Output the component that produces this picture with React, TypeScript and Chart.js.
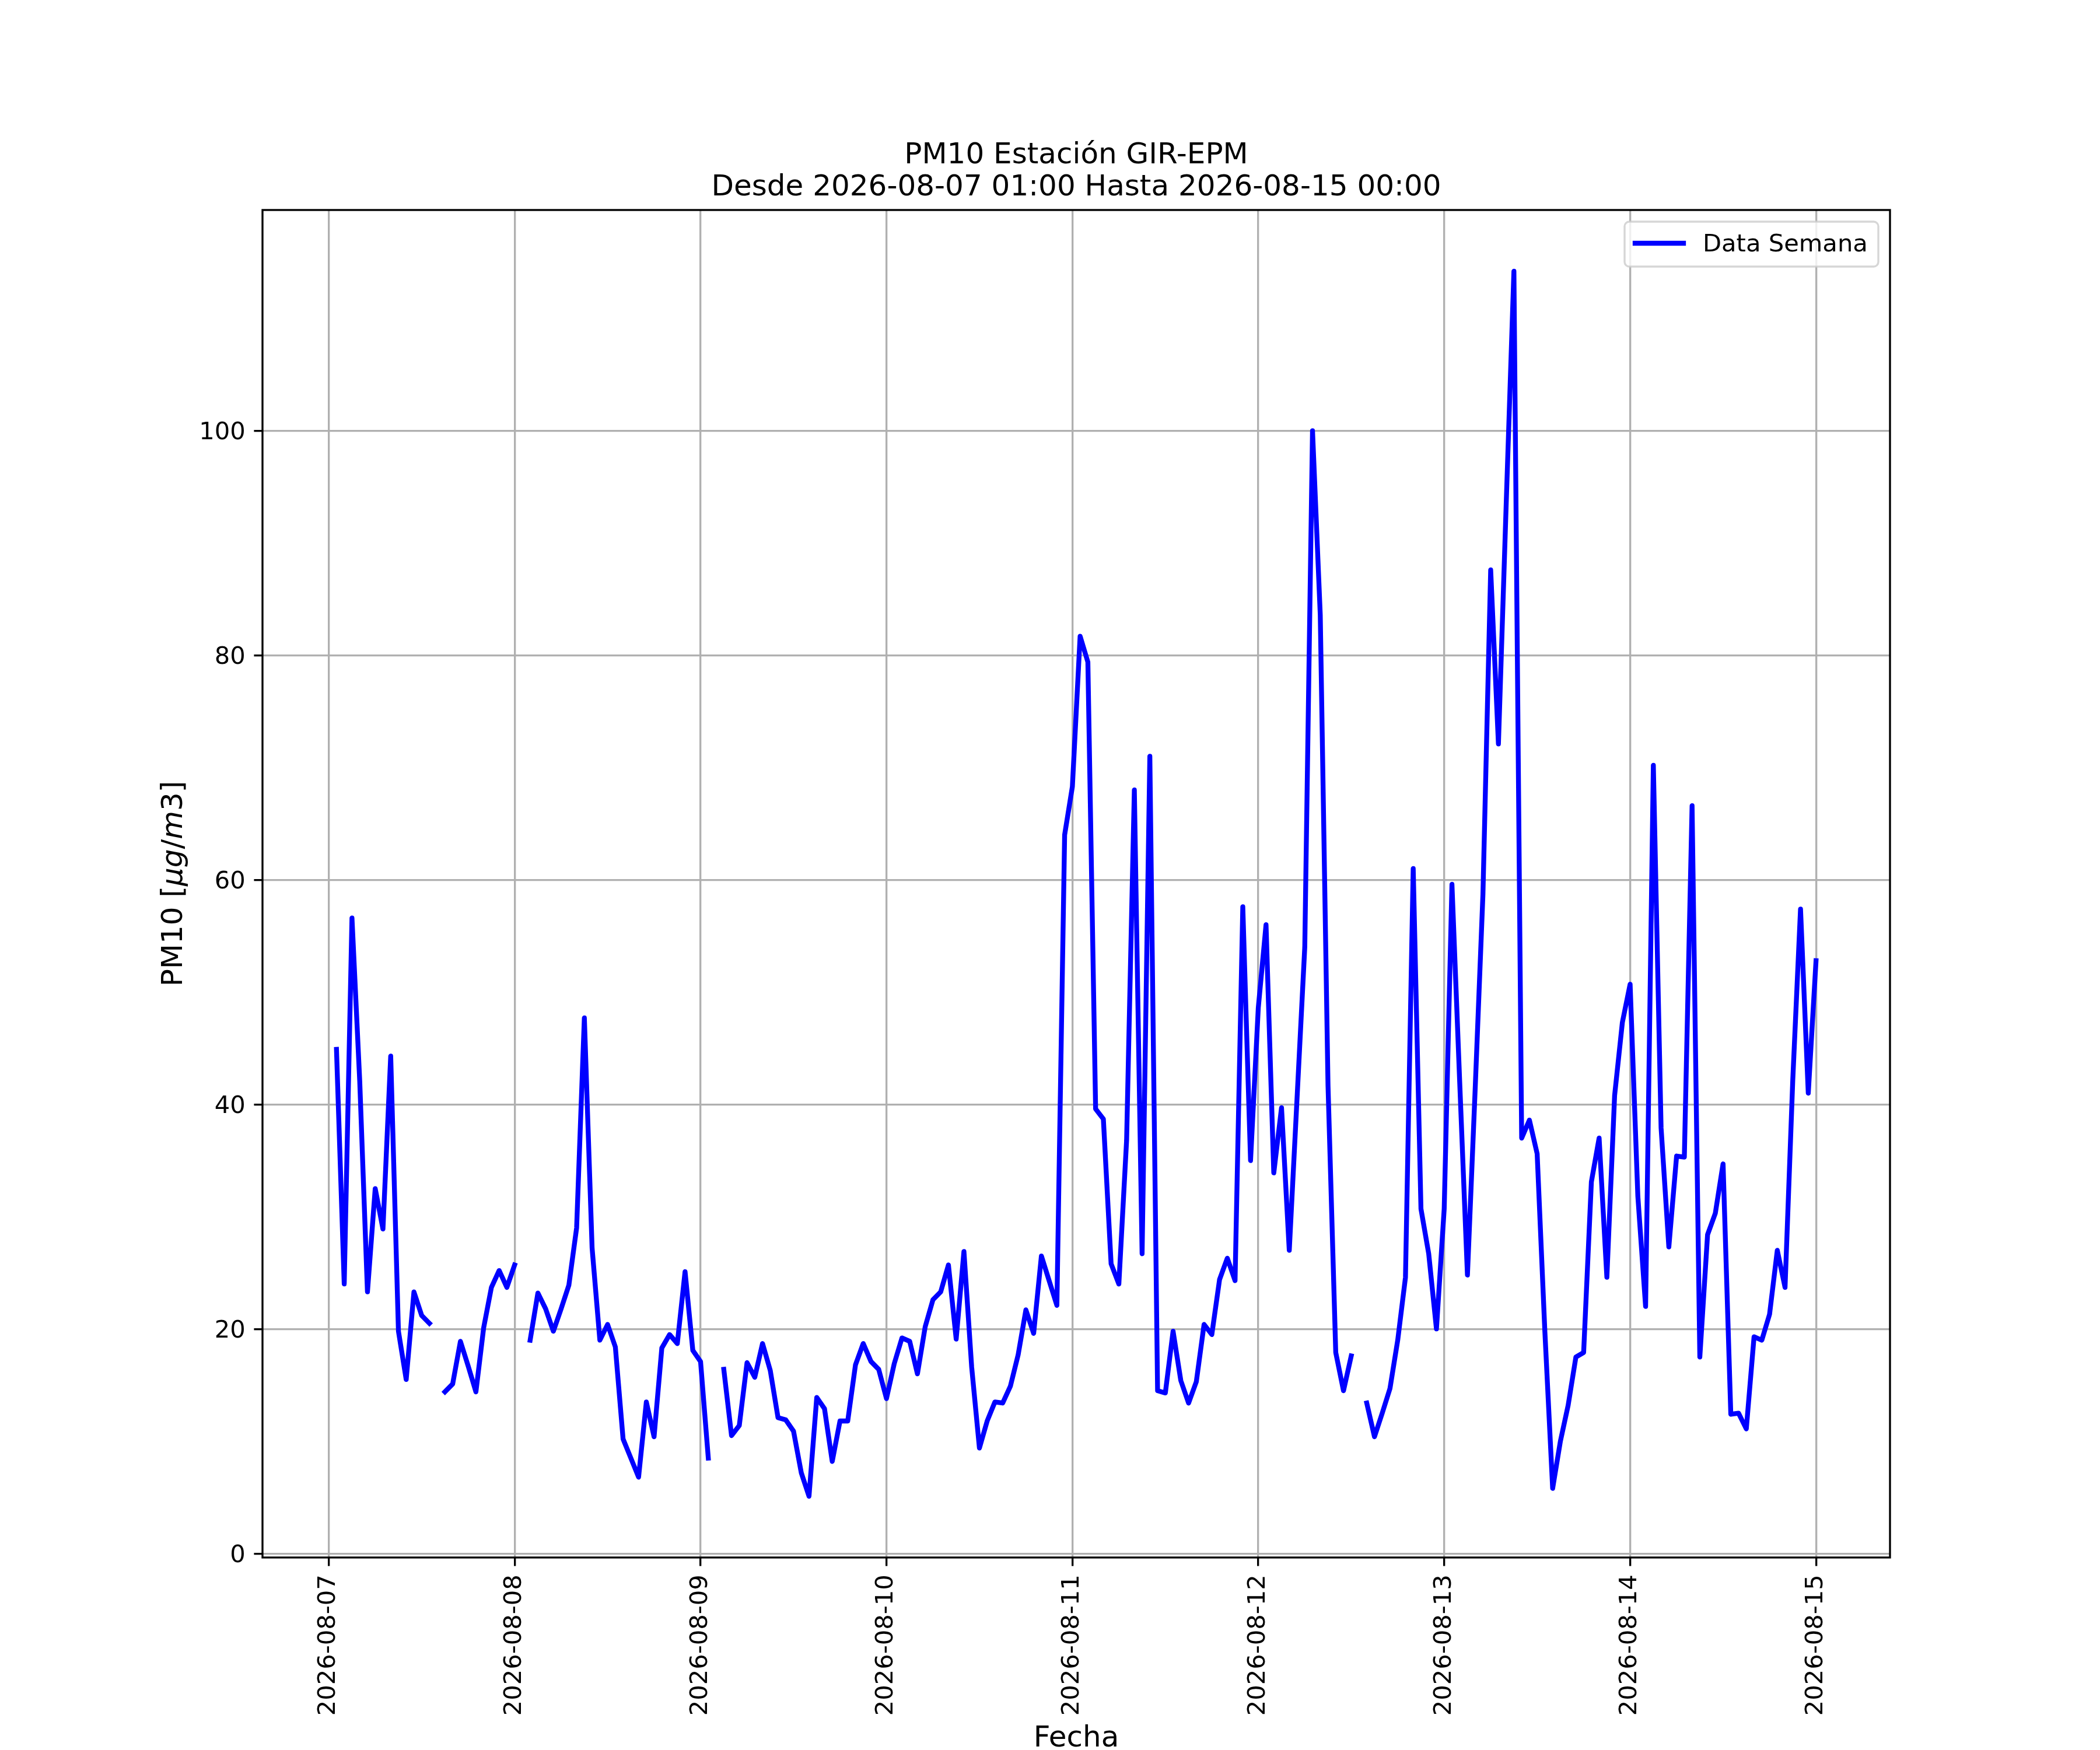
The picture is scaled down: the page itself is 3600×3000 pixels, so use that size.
import { useEffect, useRef } from "react";
import { Chart, registerables } from "chart.js";

Chart.register(...registerables);

// first reading is 2026-08-07 01:00, one value per hour (x = hours since 08-07 00:00)
const START_HOUR = 1;
const dayLabels = [
  "2026-08-07", "2026-08-08", "2026-08-09", "2026-08-10", "2026-08-11",
  "2026-08-12", "2026-08-13", "2026-08-14", "2026-08-15",
];
const yTicks = [0, 20, 40, 60, 80, 100];
const seriesLabel = "Data Semana";
const titleLines = ["PM10 Estación GIR-EPM", "Desde 2026-08-07 01:00 Hasta 2026-08-15 00:00"];
const xLabel = "Fecha";

// PM10 hourly values (null = missing hour)
const pm10: (number | null)[] = [
  44.9, 24.0, 56.6, 42.1, 23.3, 32.5, 28.9, 44.3, 19.8, 15.5, 23.3, 21.2, 20.5, null, 14.4, 15.1, 18.9, 16.7, 14.4, 20.1, 23.7, 25.2, 23.7, 25.7,
  null, 19.0, 23.2, 21.8, 19.8, 21.8, 23.9, 29.0, 47.7, 27.2, 19.0, 20.4, 18.4, 10.2, 8.5, 6.8, 13.5, 10.4, 18.3, 19.5, 18.7, 25.1, 18.1, 17.1,
  8.5, null, 16.4, 10.5, 11.4, 17.0, 15.7, 18.7, 16.3, 12.1, 11.9, 10.9, 7.2, 5.1, 13.9, 12.9, 8.2, 11.8, 11.8, 16.8, 18.7, 17.1, 16.4, 13.8,
  16.9, 19.2, 18.9, 16.0, 20.2, 22.6, 23.3, 25.7, 19.1, 26.9, 16.6, 9.4, 11.8, 13.5, 13.4, 14.9, 17.7, 21.7, 19.6, 26.5, 24.3, 22.1, 64.0, 68.3,
  81.7, 79.4, 39.6, 38.7, 25.8, 24.0, 36.8, 68.0, 26.7, 71.0, 14.5, 14.3, 19.8, 15.4, 13.4, 15.3, 20.4, 19.5, 24.4, 26.3, 24.3, 57.6, 35.0, 48.6,
  56.0, 33.9, 39.7, 27.0, 40.5, 54.0, 100.0, 83.6, 41.7, 17.9, 14.5, 17.6, null, 13.4, 10.4, 12.5, 14.7, 19.0, 24.6, 61.0, 30.7, 26.7, 20.0, 30.7,
  59.6, 42.0, 24.8, 41.4, 58.7, 87.6, 72.1, 93.4, 114.2, 37.0, 38.6, 35.6, 19.7, 5.8, 10.0, 13.2, 17.5, 17.9, 33.1, 37.0, 24.6, 40.8, 47.3, 50.7,
  31.8, 22.0, 70.2, 37.9, 27.3, 35.4, 35.3, 66.6, 17.5, 28.4, 30.3, 34.7, 12.4, 12.5, 11.1, 19.3, 19.0, 21.3, 27.0, 23.7, 42.2, 57.4, 41.0, 52.8,
];

const W = 3600;
const H = 3000;
const AREA = { left: 450, right: 3240, top: 360, bottom: 2670 };
const FONT = "'DejaVu Sans', sans-serif";
const PT = 300 / 72; // matplotlib points -> px at 300 dpi
const TICK_SIZE = 10 * PT;
const LABEL_SIZE = 12 * PT;
const BLUE = "#0000ff";

function PmChart() {
  const canvasRef = useRef<HTMLCanvasElement | null>(null);

  useEffect(() => {
    if (!canvasRef.current) return;

    const points = pm10.map((v, i) => ({ x: START_HOUR + i, y: v }));
    const vals = pm10.filter((v): v is number => v !== null);
    const lastX = START_HOUR + pm10.length - 1;
    const xPad = 0.05 * (lastX - START_HOUR);
    const yLo = Math.min(...vals);
    const yHi = Math.max(...vals);
    const yPad = 0.05 * (yHi - yLo);

    const decor = {
      id: "decor",
      afterDatasetsDraw(chart: any) {
        const { ctx, chartArea: a } = chart;
        ctx.save();
        ctx.strokeStyle = "#000";
        ctx.lineWidth = 0.8 * PT;
        ctx.strokeRect(a.left, a.top, a.right - a.left, a.bottom - a.top);
        ctx.restore();
      },
      afterDraw(chart: any) {
        const { ctx, chartArea: a } = chart;
        const cx = (a.left + a.right) / 2;
        const cy = (a.top + a.bottom) / 2;
        ctx.save();
        ctx.fillStyle = "#000";

        // title
        ctx.font = `${LABEL_SIZE}px ${FONT}`;
        ctx.textAlign = "center";
        ctx.textBaseline = "alphabetic";
        ctx.fillText(titleLines[0], cx, 280);
        ctx.fillText(titleLines[1], cx, 335);

        // x label
        ctx.fillText(xLabel, cx, 2994);

        // y label: PM10 [$\mu g/m3$]
        const normal = `${LABEL_SIZE}px ${FONT}`;
        const italic = `oblique ${LABEL_SIZE}px ${FONT}`;
        const parts: [string, string][] = [
          ["PM10 [", normal], ["μg", italic], ["/", normal], ["m", italic], ["3", normal], ["]", normal],
        ];
        let total = 0;
        for (const [t, f] of parts) { ctx.font = f; total += ctx.measureText(t).width; }
        ctx.translate(312, cy);
        ctx.rotate(-Math.PI / 2);
        ctx.textAlign = "left";
        let px = -total / 2;
        for (const [t, f] of parts) {
          ctx.font = f;
          ctx.fillText(t, px, 0);
          px += ctx.measureText(t).width;
        }
        ctx.setTransform(1, 0, 0, 1, 0, 0);

        // legend
        const lx = 2785, ly = 380, lw = 435, lh = 77, r = 8;
        ctx.beginPath();
        ctx.roundRect(lx, ly, lw, lh, r);
        ctx.fillStyle = "rgba(255,255,255,0.8)";
        ctx.fill();
        ctx.strokeStyle = "rgba(204,204,204,0.8)";
        ctx.lineWidth = 0.8 * PT;
        ctx.stroke();
        ctx.beginPath();
        ctx.moveTo(lx + 18, 417);
        ctx.lineTo(lx + 101, 417);
        ctx.strokeStyle = BLUE;
        ctx.lineWidth = 2 * PT;
        ctx.lineCap = "square";
        ctx.stroke();
        ctx.fillStyle = "#000";
        ctx.font = `${TICK_SIZE}px ${FONT}`;
        ctx.textAlign = "left";
        ctx.fillText(seriesLabel, lx + 134, 431);
        ctx.restore();
      },
    };

    const chart = new Chart(canvasRef.current, {
      type: "line",
      data: {
        datasets: [
          {
            label: seriesLabel,
            data: points,
            borderColor: BLUE,
            backgroundColor: BLUE,
            borderWidth: 2 * PT,
            borderJoinStyle: "round",
            borderCapStyle: "square",
            pointRadius: 0,
            tension: 0,
            fill: false,
            spanGaps: false,
          },
        ],
      },
      options: {
        responsive: false,
        animation: false,
        devicePixelRatio: 1,
        layout: { padding: { left: 0, top: AREA.top, right: W - AREA.right, bottom: 0 } },
        plugins: {
          legend: { display: false },
          title: { display: false },
          tooltip: { enabled: false },
        },
        scales: {
          x: {
            type: "linear",
            min: START_HOUR - xPad,
            max: lastX + xPad,
            afterBuildTicks: (s: any) => {
              s.ticks = dayLabels.map((_, i) => ({ value: i * 24 }));
            },
            afterFit: (s: any) => {
              s.height = H - AREA.bottom;
            },
            ticks: {
              autoSkip: false,
              minRotation: 90,
              maxRotation: 90,
              padding: 3.5 * PT,
              color: "#000",
              font: { family: FONT, size: TICK_SIZE },
              callback: (_v: any, i: number) => dayLabels[i],
            },
            grid: {
              color: "#b0b0b0",
              lineWidth: 0.8 * PT,
              tickColor: "#000",
              tickWidth: 0.8 * PT,
              tickLength: 3.5 * PT,
            },
            border: { display: false },
          },
          y: {
            type: "linear",
            min: yLo - yPad,
            max: yHi + yPad,
            afterBuildTicks: (s: any) => {
              s.ticks = yTicks.map((v) => ({ value: v }));
            },
            afterFit: (s: any) => {
              s.width = AREA.left;
            },
            ticks: {
              padding: 3.5 * PT,
              labelOffset: 4,
              color: "#000",
              font: { family: FONT, size: TICK_SIZE },
              callback: (v: any) => String(v),
            },
            grid: {
              color: "#b0b0b0",
              lineWidth: 0.8 * PT,
              tickColor: "#000",
              tickWidth: 0.8 * PT,
              tickLength: 3.5 * PT,
            },
            border: { display: false },
          },
        },
      },
      plugins: [decor],
    });
    return () => chart.destroy();
  }, []);

  return (
    <div style={{ position: "absolute", left: 0, top: 0, width: W, height: H, background: "#fff" }}>
      <canvas ref={canvasRef} width={W} height={H} style={{ display: "block", width: W, height: H }} />
    </div>
  );
}

export default function App() {
  return <PmChart />;
}
